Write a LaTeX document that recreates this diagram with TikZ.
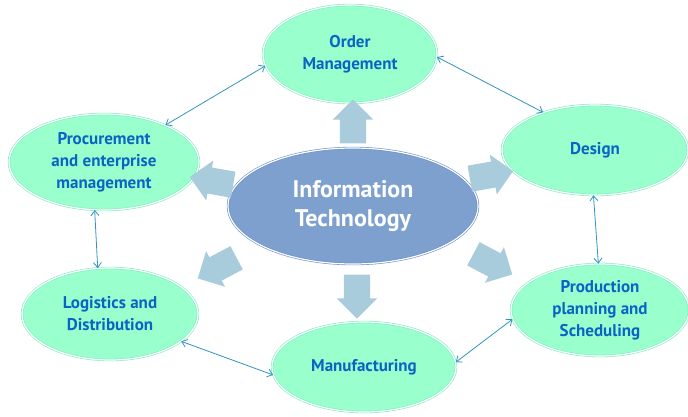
\documentclass[tikz,border=0pt]{standalone}
\usepackage{fontspec}
\setmainfont{PT Sans}
\usetikzlibrary{shapes.geometric,shapes.arrows,arrows.meta}
\definecolor{mint}{HTML}{99FFCC}
\definecolor{mintline}{HTML}{7EEFC0}
\definecolor{labelblue}{HTML}{0B63C4}
\definecolor{itfill}{HTML}{7DA0CF}
\definecolor{itline}{HTML}{6C8FC8}
\definecolor{blockblue}{HTML}{A9CCDC}
\definecolor{linkblue}{HTML}{3193BE}
\tikzset{
  item/.style={ellipse, fill=mint, draw=mintline, double=white, double distance=1.2pt, line width=0.6pt,
    inner sep=0pt, align=center, text=labelblue, font=\fontsize{17}{22}\selectfont\bfseries},
  core/.style={ellipse, fill=itfill, draw=itline, double=white, double distance=1.2pt, line width=0.6pt,
    inner sep=0pt, align=center, text=white, font=\fontsize{24}{29}\selectfont\bfseries},
  blockarrow/.style={single arrow, fill=blockblue, draw=none, inner sep=13pt, single arrow head extend=7pt,
    minimum height=44pt, single arrow head indent=0pt},
  link/.style={draw=linkblue, line width=0.8pt, {Straight Barb[length=5pt,width=8pt]}-{Straight Barb[length=5pt,width=8pt]}}
}
\begin{document}
\begin{tikzpicture}[x=1pt,y=-1pt]
\useasboundingbox (0,0) rectangle (688,416);
\node[item, minimum width=174pt, minimum height=98pt] (om) at (350,54) {Order\\Management};
\node[item, minimum width=186pt, minimum height=90pt] (ds) at (595,150) {Design};
\node[item, minimum width=190pt, minimum height=96pt] (pr) at (104,162) {Procurement\\and enterprise\\management};
\node[item, minimum width=176pt, minimum height=92pt] (lg) at (110,314) {Logistics and\\Distribution};
\node[item, minimum width=184pt, minimum height=90pt] (mf) at (364,367) {Manufacturing};
\node[item, minimum width=178pt, minimum height=92pt] (pp) at (600,310) {Production\\planning and\\Scheduling};
\node[core, minimum width=250pt, minimum height=116pt] (it) at (353,206) {Information\\Technology};

\node[blockarrow, rotate=90] (a1) at (353,128) {};
\node[blockarrow, rotate=10] (a2) at (485,176) {};
\node[blockarrow, rotate=170] (a3) at (218,182) {};
\node[blockarrow, rotate=208] (a4) at (223,265) {};
\node[blockarrow, rotate=-90] (a5) at (357,290) {};
\node[blockarrow, rotate=-28] (a6) at (487,261) {};

\draw[link] (om.188) -- (pr.31);
\draw[link] (om.358) -- (ds.144);
\draw[link] (ds.268) -- (pp.92);
\draw[link] (pr.259) -- (lg.105);
\draw[link] (lg.-21) -- (mf.185);
\draw[link] (mf.3) -- (pp.186);
\end{tikzpicture}
\end{document}
